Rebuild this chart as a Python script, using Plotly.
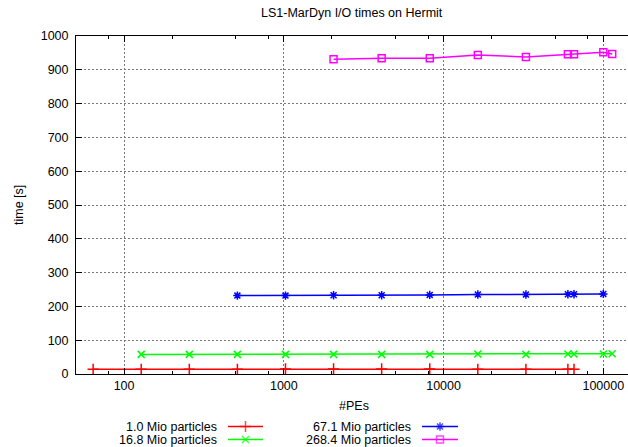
import plotly.graph_objects as go

# ---- data ----
pes_1_0 = [64, 128, 256, 512, 1024, 2048, 4096, 8192, 16384, 32768, 60000, 65536]
time_1_0 = [14, 14, 14, 14, 15, 15, 15, 15, 14, 14, 14, 14]

pes_16_8 = [128, 256, 512, 1024, 2048, 4096, 8192, 16384, 32768, 60000, 65536, 100000, 113664]
time_16_8 = [58, 58, 58, 58, 58, 58, 58, 59, 58, 59, 59, 59, 60]

pes_67_1 = [512, 1024, 2048, 4096, 8192, 16384, 32768, 60000, 65536, 100000]
time_67_1 = [232, 232, 233, 233, 234, 235, 235, 236, 236, 237]

pes_268_4 = [2048, 4096, 8192, 16384, 32768, 60000, 65536, 100000, 113664]
time_268_4 = [931, 934, 934, 944, 938, 946, 946, 952, 947]

series_names = ["1.0 Mio particles", "16.8 Mio particles", "67.1 Mio particles", "268.4 Mio particles"]
series_x = [pes_1_0, pes_16_8, pes_67_1, pes_268_4]
series_y = [time_1_0, time_16_8, time_67_1, time_268_4]

x_major = [100, 1000, 10000, 100000]
x_minor = [m * d for d in [10, 100, 1000, 10000, 100000] for m in (2, 5, 8)]
y_ticks = list(range(0, 1001, 100))

# ---- styles ----
colors = ["#ff0000", "#00ff00", "#0000ff", "#ff00ff"]
symbols = ["cross-thin-open", "x-thin-open", "asterisk-open", "square-open"]
sizes = [8, 7, 7, 7]

W, H = 628, 447
FONT = "Liberation Sans, Arial, Helvetica, sans-serif"

fig = go.Figure()

for name, xs, ys, c, s, sz in zip(series_names, series_x, series_y, colors, symbols, sizes):
    fig.add_trace(go.Scatter(
        x=xs, y=ys, mode="lines+markers", name=name,
        line=dict(color=c, width=1.5),
        marker=dict(symbol=s, size=sz, color=c, line=dict(color=c, width=1.5)),
        xaxis="x", yaxis="y", showlegend=False,
    ))

# legend keys (gnuplot-style: text on the left, sample on the right) in pixel overlay axes
legend_rows = [(426.5, 219, 228, 263), (439.5, 219, 228, 263),
               (426.5, 413, 422, 458), (439.5, 413, 422, 458)]
annotations = []
for name, c, s, sz, (yy, tx, x0, x1) in zip(series_names, colors, symbols, sizes, legend_rows):
    xm = (x0 + x1) / 2
    fig.add_trace(go.Scatter(
        x=[x0, xm, x1], y=[yy, yy, yy], mode="lines+markers",
        line=dict(color=c, width=1.5),
        marker=dict(symbol=s, size=[0, sz, 0], color=c, line=dict(color=c, width=1.5)),
        xaxis="x2", yaxis="y2", showlegend=False, hoverinfo="skip",
    ))
    annotations.append(dict(x=tx / W, y=1 - yy / H, xref="paper", yref="paper",
                            text=name, showarrow=False, xanchor="right", yanchor="middle",
                            font=dict(size=12.5, color="black", family=FONT)))

annotations += [
    dict(x=352 / W, y=1 - 13 / H, xref="paper", yref="paper", text="LS1-MarDyn I/O times on Hermit",
         showarrow=False, xanchor="center", yanchor="middle", font=dict(size=12.5, color="black", family=FONT)),
    dict(x=354 / W, y=1 - 406 / H, xref="paper", yref="paper", text="#PEs",
         showarrow=False, xanchor="center", yanchor="middle", font=dict(size=12.5, color="black", family=FONT)),
    dict(x=19 / W, y=1 - 205 / H, xref="paper", yref="paper", text="time [s]", textangle=-90,
         showarrow=False, xanchor="center", yanchor="middle", font=dict(size=12.5, color="black", family=FONT)),
]

grid_kw = dict(gridcolor="#777777", gridwidth=1, griddash="2px,2px")

fig.update_layout(
    template="none",
    width=W, height=H, autosize=False,
    margin=dict(l=0, r=0, t=0, b=0, pad=0),
    paper_bgcolor="white", plot_bgcolor="rgba(0,0,0,0)",
    font=dict(family=FONT, size=12.5, color="black"),
    xaxis=dict(
        type="log", range=[1.69897, 5.1545], domain=[76 / W, 1.0], anchor="y",
        automargin=False,
        tickmode="array", tickvals=x_major, ticktext=[str(v) for v in x_major],
        ticks="inside", ticklen=6, tickcolor="black", tickwidth=1,
        showline=True, linecolor="black", linewidth=1, mirror="allticks",
        showgrid=True, zeroline=False, **grid_kw,
        minor=dict(tickmode="array", tickvals=x_minor, ticks="inside", ticklen=3,
                   tickcolor="black", showgrid=False),
        tickfont=dict(size=12.5, color="black"),
    ),
    yaxis=dict(
        range=[0, 1000], domain=[(H - 374) / H, (H - 36) / H], anchor="x",
        automargin=False,
        tickmode="array", tickvals=y_ticks,
        ticks="inside", ticklen=6, tickcolor="black", tickwidth=1,
        showline=True, linecolor="black", linewidth=1, mirror=False,
        showgrid=True, zeroline=False, **grid_kw,
        tickfont=dict(size=12.5, color="black"),
        ticklabelstandoff=4,
    ),
    xaxis2=dict(range=[0, W], domain=[0, 1], anchor="y2", visible=False, fixedrange=True, automargin=False),
    yaxis2=dict(range=[H, 0], domain=[0, 1], anchor="x2", visible=False, fixedrange=True, automargin=False),
    annotations=annotations,
    showlegend=False,
)

fig.write_html(
    "out.html",
    config={"displayModeBar": False},
    post_script="document.body.style.margin='0';document.body.style.overflow='hidden';",
)
